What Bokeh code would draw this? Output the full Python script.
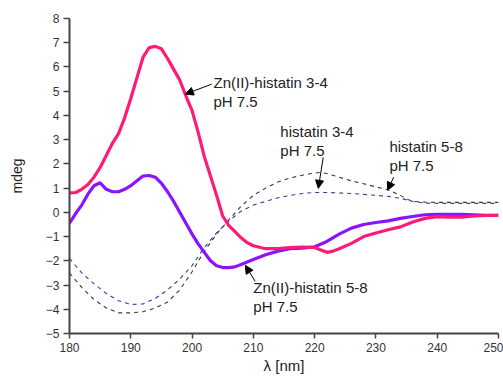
from bokeh.plotting import figure
from bokeh.models import Range1d, Arrow, NormalHead
from bokeh.core.properties import value
from bokeh.embed import file_html
from bokeh.resources import INLINE

# Zn(II)-histatin 3-4 (magenta)
zn34_x = [180, 181, 182, 183, 184, 185, 186, 187, 188, 189, 190, 191, 192, 193, 194, 195, 196, 197, 198,
          199, 200, 201, 202, 203, 204, 205, 206, 207, 208, 209, 210, 212, 214, 216, 218, 220, 221, 222,
          223, 224, 226, 228, 230, 232, 234, 236, 238, 240, 242, 244, 246, 248, 250]
zn34_y = [0.8, 0.82, 0.95, 1.15, 1.45, 1.85, 2.35, 2.85, 3.25, 3.9, 4.7, 5.55, 6.4, 6.8, 6.85, 6.75, 6.35,
          5.9, 5.45, 4.8, 4.2, 3.3, 2.3, 1.5, 0.7, -0.15, -0.55, -0.8, -1.05, -1.25, -1.38, -1.5, -1.5,
          -1.45, -1.43, -1.45, -1.55, -1.65, -1.6, -1.5, -1.28, -1.0, -0.85, -0.72, -0.6, -0.4, -0.25,
          -0.18, -0.2, -0.2, -0.15, -0.13, -0.12]

# Zn(II)-histatin 5-8 (purple)
zn58_x = [180, 181, 182, 183, 184, 185, 186, 187, 188, 189, 190, 191, 192, 193, 194, 195, 196, 197, 198,
          199, 200, 201, 202, 203, 204, 205, 206, 207, 208, 209, 210, 212, 214, 216, 218, 220, 222, 224,
          226, 228, 230, 232, 234, 236, 238, 240, 242, 244, 246, 248, 250]
zn58_y = [-0.45, -0.05, 0.3, 0.75, 1.1, 1.22, 0.95, 0.85, 0.85, 0.95, 1.1, 1.3, 1.5, 1.52, 1.45, 1.2, 0.85,
          0.45, 0.0, -0.45, -0.9, -1.3, -1.65, -2.0, -2.2, -2.28, -2.28, -2.25, -2.15, -2.05, -1.95, -1.75,
          -1.6, -1.5, -1.48, -1.42, -1.2, -0.9, -0.65, -0.5, -0.42, -0.35, -0.25, -0.17, -0.1, -0.08,
          -0.08, -0.08, -0.1, -0.12, -0.12]

# histatin (dark dashed)
h_dark_x = [180, 182, 184, 186, 188, 190, 192, 194, 196, 198, 200, 202, 204, 206, 208, 210, 212, 214, 216,
            218, 220, 221, 222, 224, 226, 228, 230, 232, 234, 235, 236, 238, 240, 245, 250]
h_dark_y = [-2.5, -3.1, -3.6, -3.95, -4.15, -4.15, -4.1, -3.95, -3.7, -3.2, -2.45, -1.6, -0.9, -0.3, 0.25,
            0.7, 1.0, 1.25, 1.42, 1.53, 1.62, 1.65, 1.6, 1.45, 1.3, 1.18, 1.05, 0.93, 0.7, 0.55, 0.45, 0.42,
            0.41, 0.41, 0.41]

# histatin (blue dashed)
h_blue_x = [180, 182, 184, 186, 188, 190, 192, 194, 196, 198, 200, 202, 204, 206, 208, 210, 212, 214, 216,
            218, 220, 222, 224, 226, 228, 230, 232, 234, 236, 238, 240, 245, 250]
h_blue_y = [-1.9, -2.5, -2.95, -3.35, -3.65, -3.8, -3.78, -3.55, -3.2, -2.75, -2.2, -1.45, -0.85, -0.35,
            0.05, 0.3, 0.45, 0.6, 0.7, 0.78, 0.82, 0.82, 0.8, 0.78, 0.74, 0.7, 0.66, 0.58, 0.45, 0.38,
            0.37, 0.37, 0.37]

x_ticks = [180, 190, 200, 210, 220, 230, 240, 250]
y_ticks = [-5, -4, -3, -2, -1, 0, 1, 2, 3, 4, 5, 6, 7, 8]

# annotation labels: (text lines, anchor in data coords, arrow start, arrow end)
labels = [
    (["Zn(II)-histatin 3-4", "pH 7.5"], (203.5, 5.37), (203.2, 5.29), (198.9, 4.88)),
    (["histatin 3-4", "pH 7.5"], (214.4, 3.35), (221.4, 2.27), (220.6, 0.99)),
    (["histatin 5-8", "pH 7.5"], (232.2, 2.73), (232.9, 1.45), (231.9, 0.91)),
    (["Zn(II)-histatin 5-8", "pH 7.5"], (210.0, -3.1), (210.3, -2.85), (208.7, -2.19)),
]

FONT = "Liberation Sans"

p = figure(width=503, height=379, output_backend="svg", toolbar_location=None,
           x_range=Range1d(180, 250), y_range=Range1d(-5, 8),
           min_border_left=69, min_border_right=5, min_border_top=18, min_border_bottom=46)
p.outline_line_color = None
p.grid.visible = False
p.background_fill_color = "white"

for ax in (p.xaxis[0], p.yaxis[0]):
    ax.axis_line_color = "#444444"
    ax.axis_line_width = 2
    ax.major_tick_line_color = "#444444"
    ax.minor_tick_line_color = "#444444"
    ax.major_tick_line_width = 1.5
    ax.minor_tick_line_width = 1.5
    ax.major_tick_in = 0
    ax.minor_tick_in = 0
    ax.major_label_text_font = FONT
    ax.major_label_text_font_size = "12px"
    ax.major_label_text_color = "#333333"
    ax.axis_label_text_font = FONT
    ax.axis_label_text_font_style = "normal"
    ax.axis_label_text_color = "#222222"

p.xaxis.ticker = x_ticks
p.yaxis.ticker = y_ticks
p.xaxis[0].ticker.num_minor_ticks = 2
p.yaxis[0].ticker.num_minor_ticks = 2
p.xaxis.major_tick_out = 5
p.xaxis.minor_tick_out = 4
p.yaxis.major_tick_out = 6
p.yaxis.minor_tick_out = 4
p.xaxis.axis_label = "λ [nm]"
p.yaxis.axis_label = "mdeg"
p.xaxis.axis_label_text_font_size = "15px"
p.yaxis.axis_label_text_font_size = "14px"
p.xaxis.axis_label_standoff = 2
p.yaxis.axis_label_standoff = 18
p.xaxis.major_label_standoff = 4
p.yaxis.major_label_standoff = 4

p.line(h_dark_x, h_dark_y, line_color="#3a3a3a", line_width=1.1, line_dash="4 4")
p.line(h_blue_x, h_blue_y, line_color="#3a3aa8", line_width=1.1, line_dash="4 4")
p.line(zn58_x, zn58_y, line_color="#8a14ff", line_width=3.2)
p.line(zn34_x, zn34_y, line_color="#ff1a7a", line_width=3.2)

tx, ty, tt = [], [], []
for lines, (ax_, ay_), _, _ in labels:
    for i, t in enumerate(lines):
        tx.append(ax_)
        ty.append(ay_ - i * 0.78)
        tt.append(t)
p.text(x=tx, y=ty, text=tt, text_font=value(FONT), text_font_size="15px",
       text_align="left", text_baseline="middle", text_color="#222222")

for _, _, (x0, y0), (x1, y1) in labels:
    p.add_layout(Arrow(end=NormalHead(size=8, fill_color="black", line_color="black"),
                       x_start=x0, y_start=y0, x_end=x1, y_end=y1,
                       line_color="black", line_width=1))

open("out.html", "w").write(file_html(p, INLINE))
